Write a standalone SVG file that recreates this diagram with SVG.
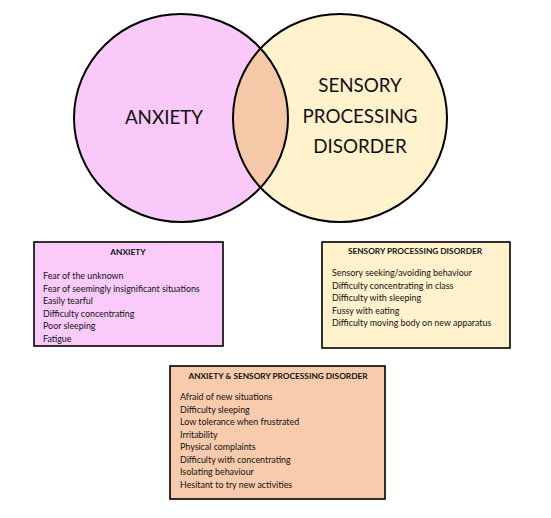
<svg xmlns="http://www.w3.org/2000/svg" width="551" height="518" viewBox="0 0 551 518">
<style>
.c{stroke:#000;stroke-width:2}
.big{font-family:Lato,"Open Sans",sans-serif;font-size:18.8px;fill:#111;text-anchor:middle}
.box{stroke:#000;stroke-width:1.6}
.t{font-family:Lato,"Open Sans",sans-serif;font-size:8.3px;font-weight:bold;fill:#111;text-anchor:middle}
.i{font-family:Lato,"Open Sans",sans-serif;font-size:8.9px;fill:#111}
</style>
<defs>
<clipPath id="clipL"><ellipse cx="181" cy="118" rx="107" ry="104"/></clipPath>
</defs>
<rect width="551" height="518" fill="#fff"/>
<g id="anxiety-circle">
<ellipse cx="181" cy="118" rx="107" ry="104" fill="#F9C9F9"/>
</g>
<g id="spd-circle">
<ellipse cx="340" cy="118" rx="107" ry="104" fill="#FFF2CC"/>
</g>
<g id="overlap">
<ellipse cx="340" cy="118" rx="107" ry="104" fill="#F5C8A8" clip-path="url(#clipL)"/>
</g>
<g id="outlines" fill="none">
<ellipse class="c" cx="181" cy="118" rx="107" ry="104"/>
<ellipse class="c" cx="340" cy="118" rx="107" ry="104"/>
</g>
<g id="labels">
<text class="big" x="164" y="124">ANXIETY</text>
<text class="big" x="360" y="92">SENSORY</text>
<text class="big" x="360" y="123">PROCESSING</text>
<text class="big" x="360" y="153">DISORDER</text>
</g>
<g id="box-anxiety">
<rect class="box" x="34" y="242" width="189" height="104" fill="#FACBFA"/>
<text class="t" x="128" y="255">ANXIETY</text>
<text class="i" x="43" y="279">Fear of the unknown</text>
<text class="i" x="43" y="291.5">Fear of seemingly insignificant situations</text>
<text class="i" x="43" y="304">Easily tearful</text>
<text class="i" x="43" y="316.5">Difficulty concentrating</text>
<text class="i" x="43" y="329">Poor sleeping</text>
<text class="i" x="43" y="341.5">Fatigue</text>
</g>
<g id="box-spd">
<rect class="box" x="322" y="242" width="188" height="106" fill="#FFF2CC"/>
<text class="t" x="415" y="254">SENSORY PROCESSING DISORDER</text>
<text class="i" x="332" y="276">Sensory seeking/avoiding behaviour</text>
<text class="i" x="332" y="288.5">Difficulty concentrating in class</text>
<text class="i" x="332" y="301">Difficulty with sleeping</text>
<text class="i" x="332" y="313.5">Fussy with eating</text>
<text class="i" x="332" y="326">Difficulty moving body on new apparatus</text>
</g>
<g id="box-both">
<rect class="box" x="170" y="366" width="215" height="133" fill="#F8CBAD"/>
<text class="t" x="278" y="379">ANXIETY &amp; SENSORY PROCESSING DISORDER</text>
<text class="i" x="180" y="400">Afraid of new situations</text>
<text class="i" x="180" y="412.5">Difficulty sleeping</text>
<text class="i" x="180" y="425">Low tolerance when frustrated</text>
<text class="i" x="180" y="437.5">Irritability</text>
<text class="i" x="180" y="450">Physical complaints</text>
<text class="i" x="180" y="462.5">Difficulty with concentrating</text>
<text class="i" x="180" y="475">Isolating behaviour</text>
<text class="i" x="180" y="487.5">Hesitant to try new activities</text>
</g>
</svg>
